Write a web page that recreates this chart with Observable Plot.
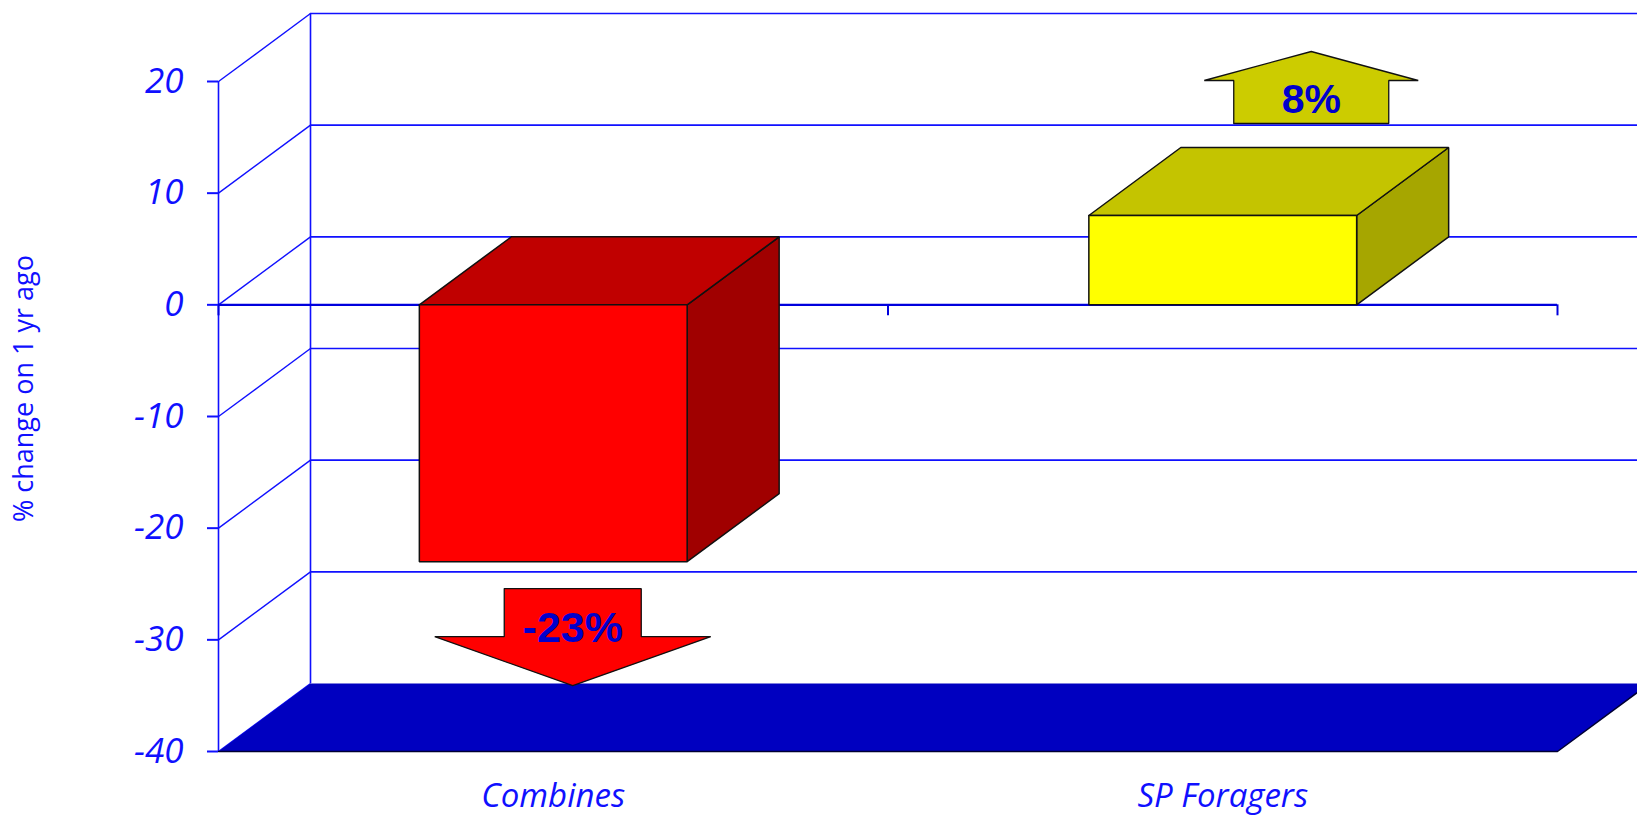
<!DOCTYPE html>
<html><head><meta charset="utf-8">
<script src="https://cdn.jsdelivr.net/npm/d3@7"></script>
<script src="https://cdn.jsdelivr.net/npm/@observablehq/plot@0.6"></script>
<style>html,body{margin:0;padding:0;background:#fff;overflow:hidden}</style>
</head><body><div id="chart"></div>
<script>
// ---- data ----
const categories = ["Combines", "SP Foragers"];
const values = [-23, 8];
const valueLabels = ["-23%", "8%"];
const yTicks = [-40, -30, -20, -10, 0, 10, 20];
const yTitle = "% change on 1 yr ago";

// ---- styles ----
const frontColors = ["#ff0000", "#ffff00"];
const topColors = ["#c00000", "#c4c400"];
const sideColors = ["#a00000", "#a6a600"];
const arrowColors = ["#ff0000", "#cccc00"];
const blue = "#1010ff";

// ---- layout ----
const W = 1637, H = 818;
const mL = 218, mR = 80, mT = 81, mB = 67;
const xDomain = [0, categories.length];
const yDomain = [-40, 20];
const pxX = (W - mL - mR) / (xDomain[1] - xDomain[0]);
const pxY = (H - mT - mB) / (yDomain[1] - yDomain[0]);
const ux = px => px / pxX, uy = px => px / pxY;
const DX = ux(92), DY = uy(68);
const barHalf = 0.2;

// arrow layout (pixels) per category
const arrowLayout = [
  {cx: 19.5, gap: 27, shaftHalf: 68.5, wingHalf: 138, shaft: 48, head: 49, label: 40, font: 43},
  {cx: 88.5, gap: 24, shaftHalf: 77.5, wingHalf: 107, shaft: 43, head: 29, label: 24, font: 41}
];

function poly(points, id) { return [...points, points[0]].map(([x, y]) => ({x, y, id})); }

const marks = [];

// back wall gridlines
marks.push(Plot.ruleY(yTicks.filter(t => t > yDomain[0]), {y: t => t + DY, x1: DX, x2: xDomain[1] + DX + 1, stroke: blue, strokeWidth: 1.6}));
// left wall diagonals
marks.push(Plot.link(yTicks, {x1: 0, y1: t => t, x2: DX, y2: t => t + DY, stroke: blue, strokeWidth: 1.4}));
// walls verticals
marks.push(Plot.ruleX([DX], {y1: yDomain[0] + DY, y2: yDomain[1] + DY, stroke: blue, strokeWidth: 1.6}));
marks.push(Plot.ruleX([0], {y1: yDomain[0], y2: yDomain[1], stroke: blue, strokeWidth: 1.6}));

// floor
const floor = poly([[0, yDomain[0]], [DX, yDomain[0] + DY], [xDomain[1] + DX, yDomain[0] + DY], [xDomain[1], yDomain[0]]], "floor");
marks.push(Plot.line(floor, {x: "x", y: "y", fill: "#0000c0", stroke: "none"}));
marks.push(Plot.line([{x: 0, y: yDomain[0]}, {x: xDomain[1], y: yDomain[0]}, {x: xDomain[1] + DX, y: yDomain[0] + DY}], {x: "x", y: "y", stroke: "#000033", strokeWidth: 1.5}));

// front zero axis line and ticks
marks.push(Plot.ruleY([0], {x1: 0, x2: xDomain[1], stroke: "#0000dd", strokeWidth: 2.2}));
marks.push(Plot.ruleX(d3.range(xDomain[0], xDomain[1] + 1), {y1: 0, y2: -uy(11), stroke: "#0000dd", strokeWidth: 2}));

// bars
categories.forEach((c, i) => {
  const v = values[i];
  const x0 = i + 0.5 - barHalf, x1 = i + 0.5 + barHalf;
  const yt = Math.max(0, v), yb = Math.min(0, v);
  const top = poly([[x0, yt], [x1, yt], [x1 + DX, yt + DY], [x0 + DX, yt + DY]], "top" + i);
  const side = poly([[x1, yt], [x1, yb], [x1 + DX, yb + DY], [x1 + DX, yt + DY]], "side" + i);
  const front = poly([[x0, yt], [x1, yt], [x1, yb], [x0, yb]], "front" + i);
  const st = {x: "x", y: "y", stroke: "#111", strokeWidth: 1.5, strokeLinejoin: "miter"};
  marks.push(Plot.line(side, {...st, fill: sideColors[i]}));
  marks.push(Plot.line(top, {...st, fill: topColors[i]}));
  marks.push(Plot.line(front, {...st, fill: frontColors[i]}));

  // arrow
  const a = arrowLayout[i];
  const dir = v < 0 ? -1 : 1;
  const cx = i + 0.5 + ux(a.cx);
  const base = v < 0 ? v - uy(a.gap) : v + DY + uy(a.gap);
  const ys = base + dir * uy(a.shaft), yh = ys + dir * uy(a.head);
  const sh = ux(a.shaftHalf), wh = ux(a.wingHalf);
  const arrow = poly([[cx - sh, base], [cx + sh, base], [cx + sh, ys], [cx + wh, ys], [cx, yh], [cx - wh, ys], [cx - sh, ys]], "arrow" + i);
  marks.push(Plot.line(arrow, {...st, fill: arrowColors[i], strokeWidth: 1.3}));
  marks.push(Plot.text([valueLabels[i]], {x: cx, y: base + dir * uy(a.label), text: d => d, fontSize: a.font, fontWeight: "bold", fontFamily: "Liberation Sans, Arial, sans-serif", fill: "#0000cc"}));
});

// axes & labels
marks.push(Plot.axisY({ticks: yTicks, tickSize: 11, tickPadding: 24, fontSize: 35, fontStyle: "italic", color: blue, strokeWidth: 2, label: null, tickFormat: d => d}));
marks.push(Plot.text(categories, {x: (d, i) => i + 0.5, y: yDomain[0], dy: 45, text: d => d, fontSize: 33, fontStyle: "italic", fill: blue}));
marks.push(Plot.text([yTitle], {x: 0, y: -7.5, dx: -194, rotate: -90, text: d => d, fontSize: 27, fill: blue}));

const chart = Plot.plot({
  width: W, height: H,
  marginLeft: mL, marginRight: mR, marginTop: mT, marginBottom: mB,
  x: {domain: xDomain, axis: null},
  y: {domain: yDomain, axis: null},
  style: {fontFamily: "'Open Sans', sans-serif", background: "#fff", overflow: "hidden"},
  marks
});
document.getElementById("chart").appendChild(chart);
</script>
</body></html>
